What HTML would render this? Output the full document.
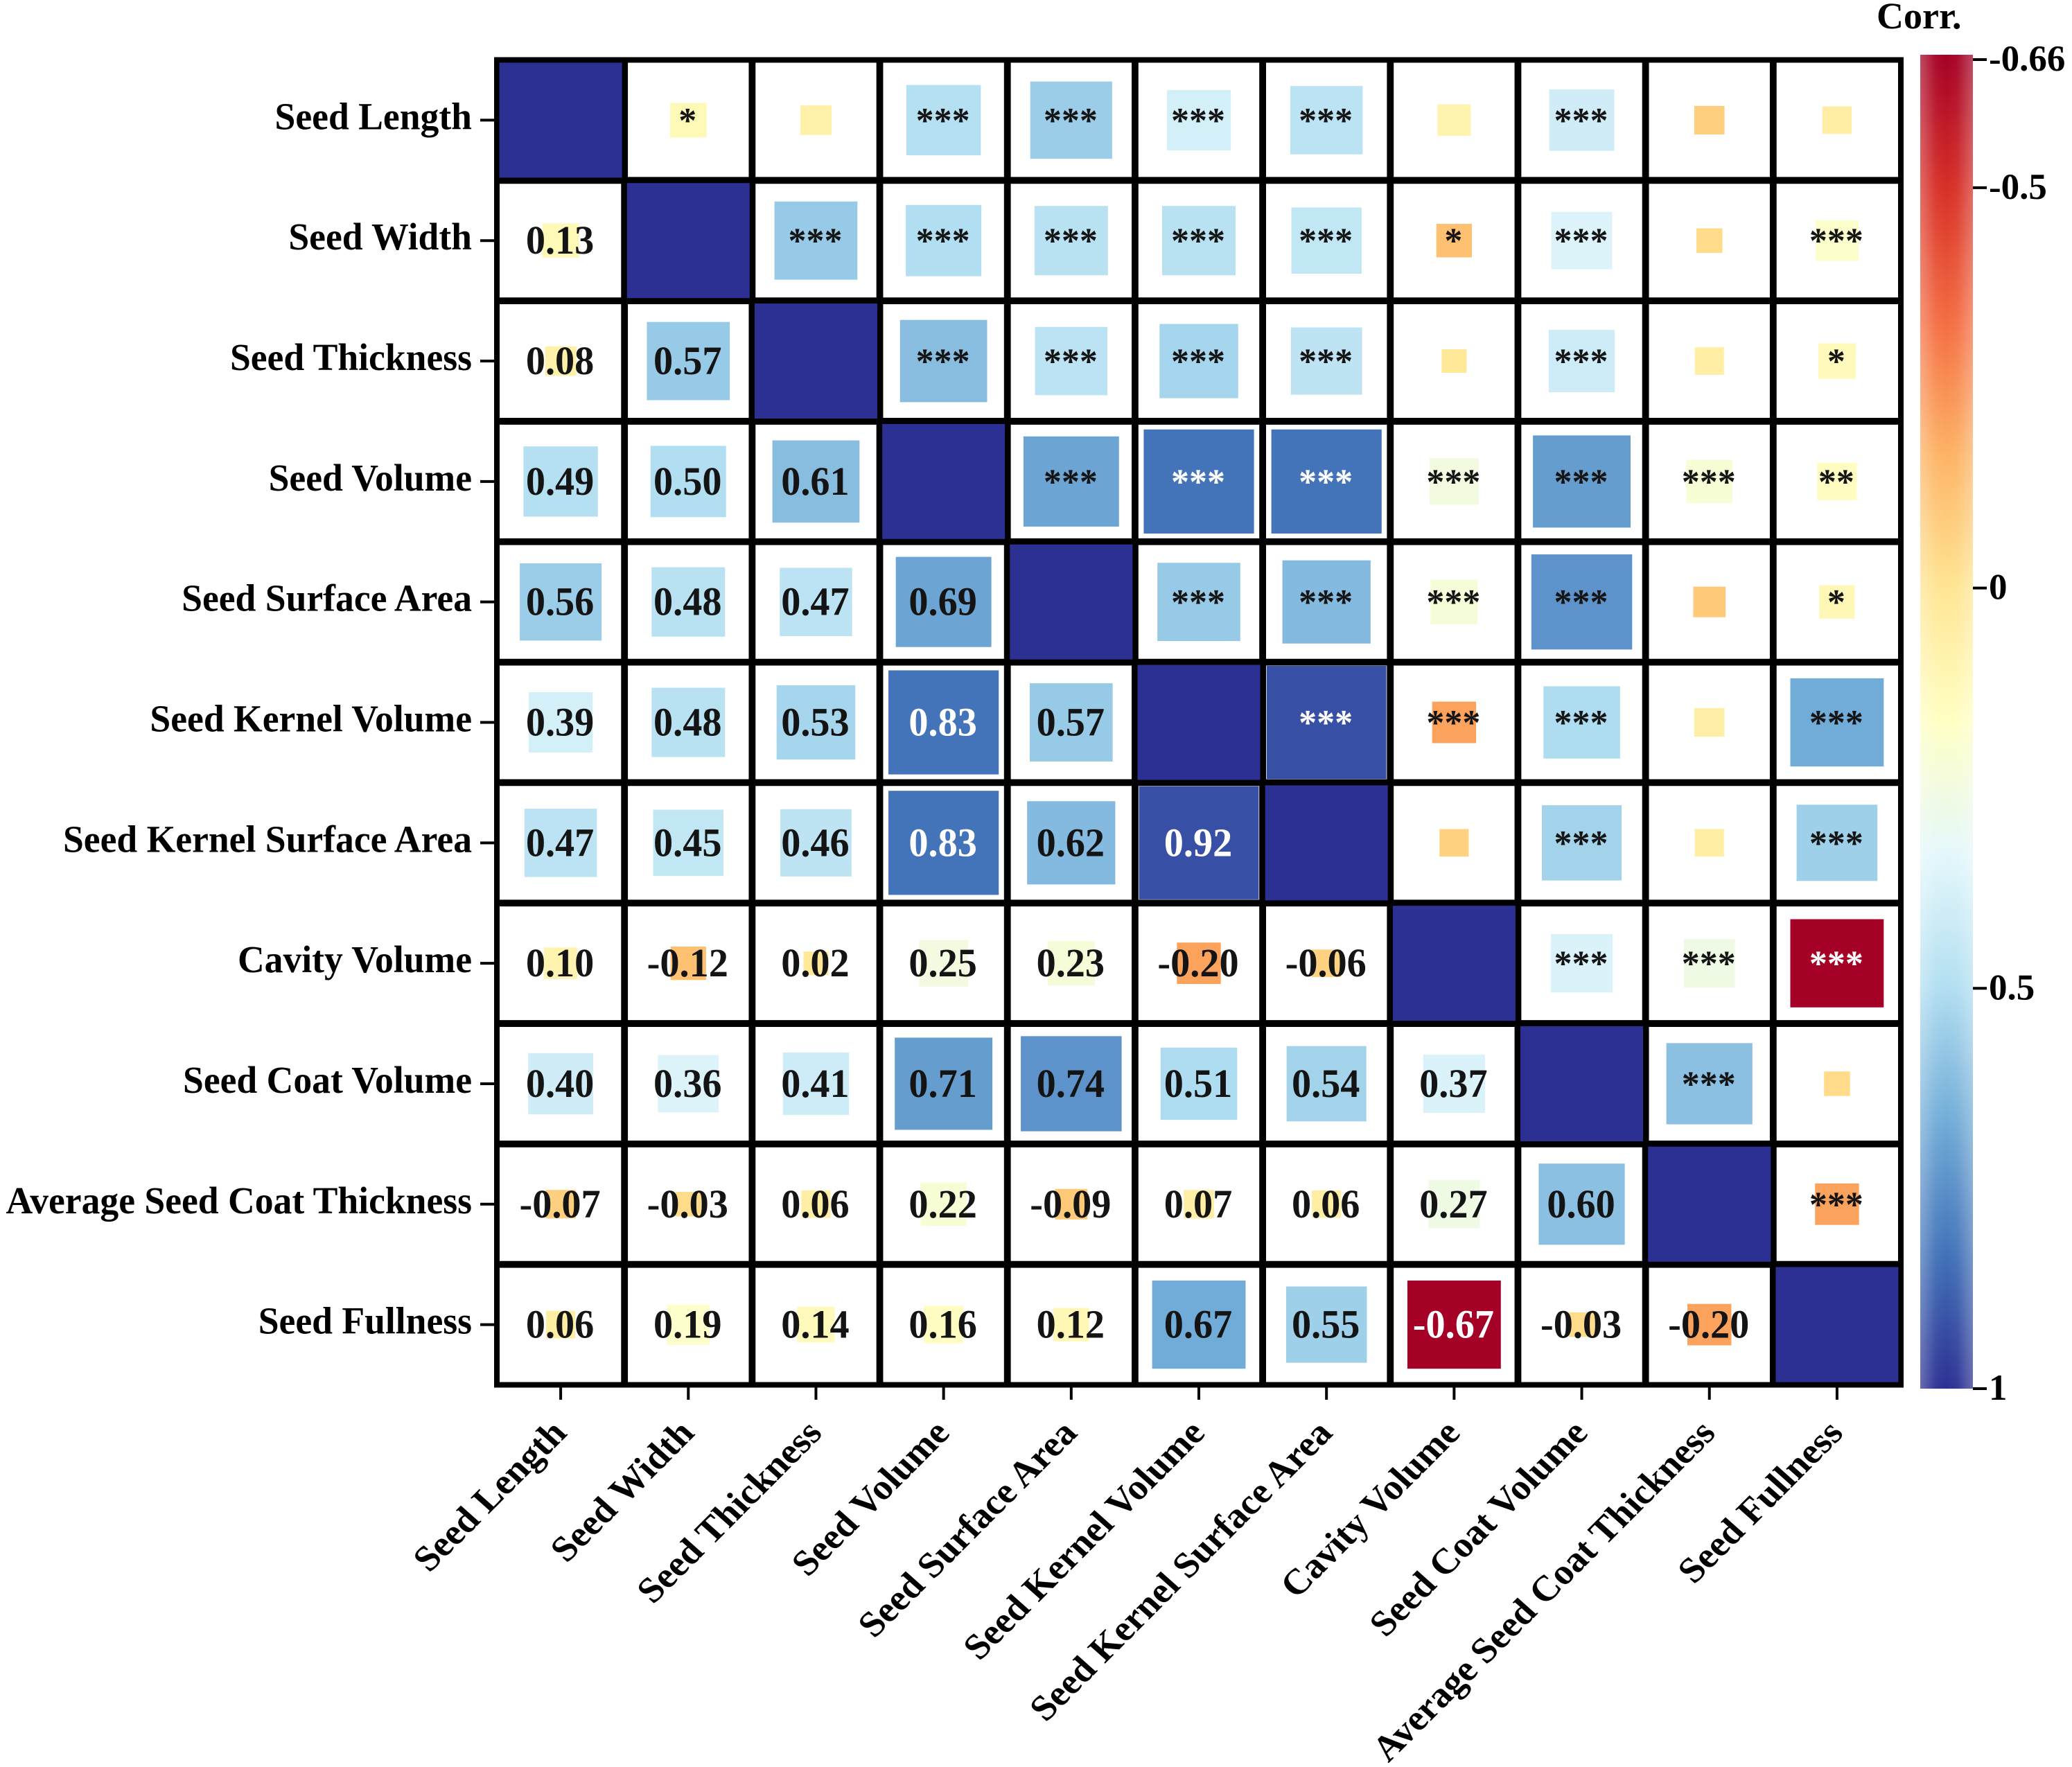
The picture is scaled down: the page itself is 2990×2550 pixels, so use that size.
<!DOCTYPE html>
<html lang="en">
<head>
<meta charset="utf-8">
<title>Seed trait correlation heatmap</title>
<style>
html,body{margin:0;padding:0;background:#fff;}
svg{display:block;}
text{font-family:"Liberation Serif","Times New Roman",serif;font-weight:bold;}
</style>
</head>
<body>
<svg id="chart" xmlns="http://www.w3.org/2000/svg" width="2990" height="2550" viewBox="0 0 2990 2550">
<defs>
<linearGradient id="cbar-gradient" x1="0" y1="0" x2="0" y2="1"></linearGradient>
<linearGradient id="cbar-edge" x1="0" y1="0" x2="1" y2="0">
<stop offset="0" stop-color="#fff" stop-opacity="0.28"/>
<stop offset="0.3" stop-color="#fff" stop-opacity="0.04"/>
<stop offset="0.5" stop-color="#fff" stop-opacity="0"/>
<stop offset="0.7" stop-color="#fff" stop-opacity="0.04"/>
<stop offset="1" stop-color="#fff" stop-opacity="0.28"/>
</linearGradient>
</defs>
<rect x="0" y="0" width="2990" height="2550" fill="#ffffff"/>
<g id="grid"></g>
<g id="cells"></g>
<g id="labels"></g>
<g id="colorbar"></g>
</svg>
<script>
const categories = ["Seed Length","Seed Width","Seed Thickness","Seed Volume","Seed Surface Area","Seed Kernel Volume","Seed Kernel Surface Area","Cavity Volume","Seed Coat Volume","Average Seed Coat Thickness","Seed Fullness"];
const correlations = [
  [],
  [0.13],
  [0.08,0.57],
  [0.49,0.50,0.61],
  [0.56,0.48,0.47,0.69],
  [0.39,0.48,0.53,0.83,0.57],
  [0.47,0.45,0.46,0.83,0.62,0.92],
  [0.10,-0.12,0.02,0.25,0.23,-0.20,-0.06],
  [0.40,0.36,0.41,0.71,0.74,0.51,0.54,0.37],
  [-0.07,-0.03,0.06,0.22,-0.09,0.07,0.06,0.27,0.60],
  [0.06,0.19,0.14,0.16,0.12,0.67,0.55,-0.67,-0.03,-0.20]
];
const significance = [
  ["*","","***","***","***","***","","***","",""],
  ["***","***","***","***","***","*","***","","***"],
  ["***","***","***","***","","***","","*"],
  ["***","***","***","***","***","***","**"],
  ["***","***","***","***","","*"],
  ["***","***","***","","***"],
  ["","***","","***"],
  ["***","***","***"],
  ["***",""],
  ["***"]
];
const colorStops = ["#A50026","#D73027","#F46D43","#FDB365","#FFE593","#FFFFC4","#E4F7FB","#B1DEF1","#72ACD7","#4272B8","#2C3093"];
const colorbarTicks = [-0.66,-0.5,0,0.5,1];
const colorbarTickLabels = ["-0.66","-0.5","0","0.5","1"];
const colorMin = -0.66;
const colorMax = 1;

const SVGNS = "http://www.w3.org/2000/svg";
const plotLeft = 717, plotRight = 2743, plotTop = 86.5, plotBottom = 1998.5;
const n = categories.length;
const cellW = (plotRight - plotLeft) / n;
const cellH = (plotBottom - plotTop) / n;
const xCenter = i => plotLeft + cellW * (i + 0.5);
const yCenter = i => plotTop + cellH * (i + 0.5);
const sizeW = r => Math.min(177, 33 + 152 * Math.abs(r));
const sizeH = r => Math.min(166, (33 + 152 * Math.abs(r)) * cellH / cellW);
const cbarLeft = 2771, cbarRight = 2847, cbarTop = 86, cbarBottom = 2004;
const cbarY = v => cbarTop + (v - colorMin) / (colorMax - colorMin) * (cbarBottom - cbarTop);

function hexToRgb(h){ return [1,3,5].map(i => parseInt(h.substr(i,2),16)); }
function colorFor(v){
  let t = (v - colorMin) / (colorMax - colorMin);
  t = Math.max(0, Math.min(1, t)) * (colorStops.length - 1);
  const i = Math.min(Math.floor(t), colorStops.length - 2);
  const f = t - i;
  const a = hexToRgb(colorStops[i]), b = hexToRgb(colorStops[i + 1]);
  return "rgb(" + a.map((c,k) => Math.round(c + (b[k] - c) * f)).join(",") + ")";
}
function textColor(r){ return (r > 0.8 || r < -0.6) ? "#ffffff" : "#141414"; }
function make(tag, attrs, parent){
  const el = document.createElementNS(SVGNS, tag);
  for (const k in attrs) el.setAttribute(k, attrs[k]);
  parent.appendChild(el);
  return el;
}

const grid = document.getElementById("grid");
const cellsG = document.getElementById("cells");
const labelsG = document.getElementById("labels");
const cbarG = document.getElementById("colorbar");

/* plot area and grid lines */
const plotArea = make("rect", {x:plotLeft, y:plotTop, width:plotRight-plotLeft, height:plotBottom-plotTop, fill:"#ffffff"}, grid);


for (let i = 0; i <= n; i++) {
  const lineWidth = (i === 0 || i === n) ? 8 : 9.8;
  const vLine = make("line", {x1:plotLeft+cellW*i, x2:plotLeft+cellW*i, y1:plotTop-4, y2:plotBottom+4, stroke:"#000", "stroke-width":lineWidth}, grid);
  
  
  const hLine = make("line", {x1:plotLeft-4, x2:plotRight+4, y1:plotTop+cellH*i, y2:plotTop+cellH*i, stroke:"#000", "stroke-width":lineWidth}, grid);
  
  
}

/* heatmap cells */
function valueAt(row, col){
  if (row === col) return 1;
  return row > col ? correlations[row][col] : correlations[col][row];
}
function addSquare(row, col, r){
  const w = sizeW(r), h = sizeH(r);
  const sq = make("rect", {x:xCenter(col)-w/2, y:yCenter(row)-h/2, width:w, height:h, fill:colorFor(r)}, cellsG);
  
  
}
for (let row = 0; row < n; row++) {
  for (let col = 0; col < n; col++) {
    addSquare(row, col, valueAt(row, col));
  }
}
for (let row = 0; row < n; row++) {
  for (let col = 0; col < n; col++) {
    if (row === col) continue;
    const r = valueAt(row, col);
    if (row > col) {
      const t = make("text", {transform:"translate(" + (xCenter(col)-1) + "," + (yCenter(row)+19) + ") scale(0.97,1)", "text-anchor":"middle", "font-size":58, fill:textColor(r)}, cellsG);
      t.textContent = r.toFixed(2);
      
      
    } else {
      const mark = significance[row][col - row - 1];
      if (mark) {
        const t = make("text", {x:xCenter(col)-1, y:yCenter(row)+17.5, "text-anchor":"middle", "font-size":52, fill:textColor(r)}, cellsG);
        t.textContent = mark;
        
        
      }
    }
  }
}

/* axis ticks and labels */
categories.forEach((name, i) => {
  const yTick = make("line", {x1:693, x2:713, y1:yCenter(i), y2:yCenter(i), stroke:"#000", "stroke-width":4}, labelsG);
  
  
  const yLabel = make("text", {transform:"translate(681," + (yCenter(i)+13) + ") scale(0.975,1)", "text-anchor":"end", "font-size":55, fill:"#000"}, labelsG);
  yLabel.textContent = name;
  
  
  const xTick = make("line", {x1:xCenter(i), x2:xCenter(i), y1:2002, y2:2020, stroke:"#000", "stroke-width":4}, labelsG);
  
  
  const xLabel = make("text", {transform:"translate(" + (xCenter(i)+11) + ",2070) scale(1.06,1) rotate(-46.7)", x:0, y:0, "text-anchor":"end", "font-size":52, fill:"#000"}, labelsG);
  xLabel.textContent = name;
  
  
});

/* colour bar */
const grad = document.getElementById("cbar-gradient");
const gradSteps = 100;
for (let i = 0; i <= gradSteps; i++) {
  const v = colorMin + (colorMax - colorMin) * i / gradSteps;
  make("stop", {offset:i / gradSteps, "stop-color":colorFor(v)}, grad);
}
const barRect = make("rect", {x:cbarLeft, y:cbarTop-7, width:cbarRight-cbarLeft, height:cbarBottom-cbarTop+7, fill:"url(#cbar-gradient)"}, cbarG);


const barEdge = make("rect", {x:cbarLeft, y:cbarTop-7, width:cbarRight-cbarLeft, height:cbarBottom-cbarTop+7, fill:"url(#cbar-edge)"}, cbarG);


colorbarTicks.forEach((v, i) => {
  const tick = make("line", {x1:cbarRight, x2:cbarRight+20, y1:cbarY(v), y2:cbarY(v), stroke:"#000", "stroke-width":4}, cbarG);
  
  
  const lab = make("text", {x:2870, y:cbarY(v)+16, "font-size":53, fill:"#000"}, cbarG);
  lab.textContent = colorbarTickLabels[i];
  
  
});
const cbarTitle = make("text", {x:2708, y:41, "font-size":54, fill:"#000"}, cbarG);
cbarTitle.textContent = "Corr.";


</script>
</body>
</html>
